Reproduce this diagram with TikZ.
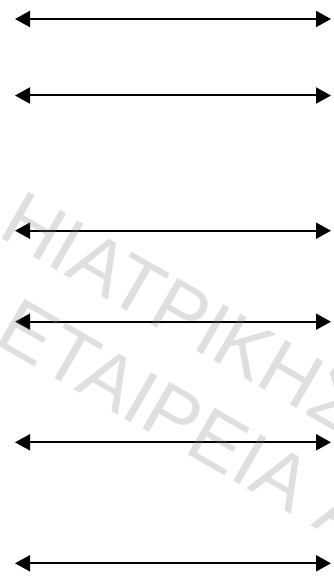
\documentclass[tikz,border=0pt]{standalone}
\usepackage{fontspec}
\setmainfont{Liberation Sans}
\usetikzlibrary{arrows.meta}
\tikzset{
  twoway/.style={line width=2pt, {Triangle[length=15pt,width=16pt]}-{Triangle[length=15pt,width=16pt]}},
  wmark/.style={text=black!50, text opacity=0.25, rotate=-30, anchor=base west, inner sep=0pt,
    font=\fontsize{78}{78}\selectfont}
}
\begin{document}
\begin{tikzpicture}[x=1pt,y=-1pt]
  \useasboundingbox (0,0) rectangle (333,577);
  % end points of the six double-headed arrows
  \foreach \i/\y in {1/19,2/95.5,3/230.7,4/321.7,5/442.3,6/563.3}{
    \coordinate (l\i) at (15,\y);
    \coordinate (r\i) at (331,\y);
  }
  \foreach \i in {1,...,6}{
    \draw[twoway] (l\i) -- (r\i);
  }
  % watermark lines
  \node[wmark] (wm1) at (-4,235) {ΗΙΑΤΡΙΚΗΣ};
  \node[wmark] (wm2) at (-8,342) {ΕΤΑΙΡΕΙΑ Α};
\end{tikzpicture}
\end{document}
